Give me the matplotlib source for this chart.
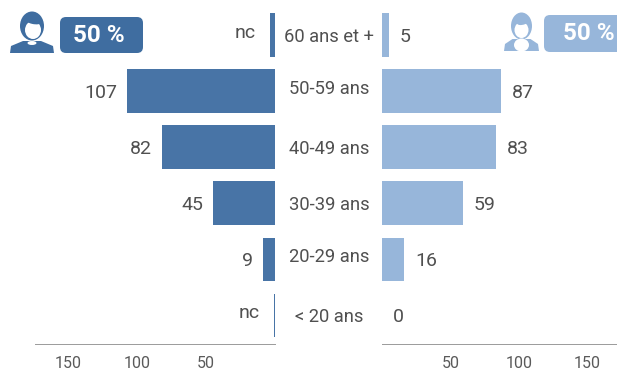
import matplotlib
matplotlib.use("Agg")
import matplotlib.pyplot as plt
from matplotlib.patches import Ellipse, FancyBboxPatch, Polygon

plt.rcParams['font.family'] = ['Roboto', 'DejaVu Sans']

W, H = 617, 372
DARK = '#4874a6'
BADGE = '#3f6da0'
LIGHT = '#97b6da'
TEXT = '#505050'

categories = ['60 ans et +', '50-59 ans', '40-49 ans', '30-39 ans', '20-29 ans', '< 20 ans']
men_values = [4, 107, 82, 45, 9, 1]
men_labels = ['nc', '107', '82', '45', '9', 'nc']
women_values = [5, 87, 83, 59, 16, 0]
women_labels = ['5', '87', '83', '59', '16', '0']
ticks = [50, 100, 150]
share_label = '50 %'


def px_axes(fig, x0, x1, y0, y1):
    return fig.add_axes([x0 / W, 1 - y1 / H, (x1 - x0) / W, (y1 - y0) / H])


def draw_side(ax, values, labels, color, gap):
    ax.barh(range(len(values)), values, height=0.78, color=color)
    ax.set_ylim(5.5, -0.5)
    ax.set_yticks([])
    ax.set_xticks(ticks)
    ax.tick_params(axis='x', length=0, pad=9, labelsize=11.5, labelcolor='#5a5a5a')
    for s in ['top', 'left', 'right']:
        ax.spines[s].set_visible(False)
    ax.spines['bottom'].set_color('#9a9a9a')
    ax.spines['bottom'].set_linewidth(0.7)
    ax.spines['bottom'].set_linestyle((0, (1, 1)))
    for i, (v, lab) in enumerate(zip(values, labels)):
        # "nc" est un peu plus haut et plus loin de la barre
        dx = gap - 4 if lab == 'nc' else gap
        dy = 2 if lab == 'nc' else -2
        ax.annotate(lab, (v, i), xytext=(dx, dy), textcoords='offset pixels',
                    ha='right' if gap < 0 else 'left', va='center',
                    fontsize=14, color=TEXT)


def person(ax, cx, half_w, color, female=False):
    # petit pictogramme dessiné en pixels
    bottom = 53 if not female else 51
    ax.add_patch(Polygon([(cx - half_w, bottom), (cx - half_w + 1, bottom - 7),
                          (cx - 9, bottom - 12), (cx + 9, bottom - 12),
                          (cx + half_w - 1, bottom - 7), (cx + half_w, bottom)],
                         color=color, lw=0))
    if female:
        ax.add_patch(Ellipse((cx, 26), 21, 27, color=color, lw=0))
        ax.add_patch(Ellipse((cx, 45), 15, 13, color='white', lw=0))
        ax.add_patch(Ellipse((cx, 30), 14, 16, color='white', lw=0))
        ax.add_patch(Ellipse((cx + 2, 21), 14, 7, angle=-20, color=color, lw=0))
    else:
        ax.add_patch(Ellipse((cx, 26), 24, 29, color=color, lw=0))
        ax.add_patch(Ellipse((cx + 1, 30), 16, 18, color='white', lw=0))
        ax.add_patch(Ellipse((cx, 43), 9, 4, color='white', lw=0))
        ax.add_patch(Ellipse((cx + 1, 21), 16, 6, angle=12, color=color, lw=0))


fig = plt.figure(figsize=(W / 100, H / 100), dpi=100)

ax_men = px_axes(fig, 35, 275.5, 7, 343.5)
ax_men.set_xlim(240.5 / 1.385, 0)
draw_side(ax_men, men_values, men_labels, DARK, -10)

ax_women = px_axes(fig, 382, 617, 7, 343.5)
ax_women.set_xlim(0, 235 / 1.37)
draw_side(ax_women, women_values, women_labels, LIGHT, 11)

# calque en pixels pour les libellés centraux et les pastilles
ov = px_axes(fig, 0, W, 0, H)
ov.set_xlim(0, W)
ov.set_ylim(H, 0)
ov.axis('off')
ov.patch.set_alpha(0)

label_y = [36, 88, 148, 204, 256, 316]
for c, y in zip(categories, label_y):
    ov.text(329.5, y + 1, c, ha='center', va='center', fontsize=13.2, color=TEXT)

person(ov, 32, 22, BADGE)
person(ov, 521.5, 17.5, LIGHT, female=True)

ov.add_patch(FancyBboxPatch((60, 17), 83, 36, boxstyle='round,pad=0,rounding_size=6',
                            fc=BADGE, ec='none', lw=0))
ov.text(98.5, 35, share_label, ha='center', va='center', fontsize=17.5,
        fontweight='bold', color='white')
ov.add_patch(FancyBboxPatch((544, 15), 85, 37, boxstyle='round,pad=0,rounding_size=6',
                            fc=LIGHT, ec='none', lw=0))
ov.text(589, 33, share_label, ha='center', va='center', fontsize=17.5,
        fontweight='bold', color='white')

fig.savefig('out.png', dpi=100)
